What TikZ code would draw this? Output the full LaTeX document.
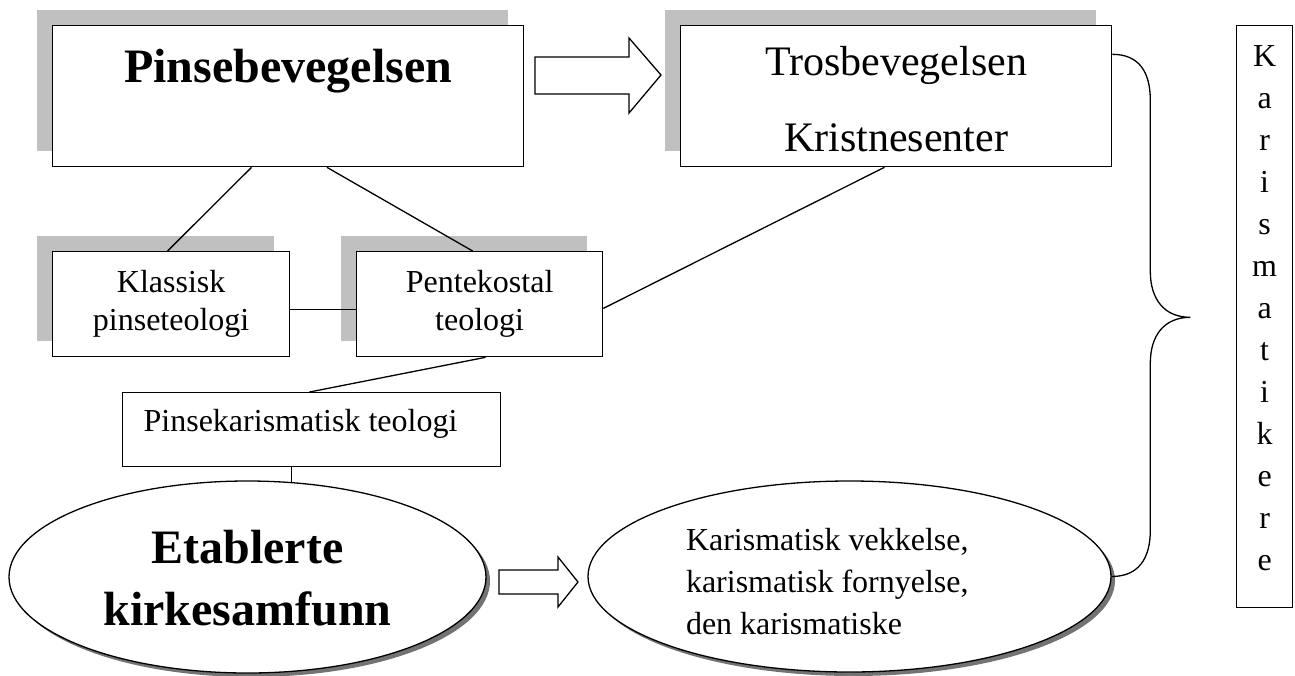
\documentclass[tikz,border=0pt]{standalone}
\usepackage{fontspec}
\setmainfont{Liberation Serif}
\usepackage{xcolor}
\usepackage{tikz}
\usetikzlibrary{shapes.geometric,shadows,calc}

\definecolor{boxshade}{RGB}{192,192,192}
\definecolor{ovalshade}{RGB}{115,115,115}
\tikzset{
	shadebox/.style={draw,fill=white,inner sep=0pt,anchor=north west,general shadow={fill=boxshade,shadow xshift=-8pt,shadow yshift=8pt}},
	plainbox/.style={draw,fill=white,inner sep=0pt,anchor=north west},
	oval/.style={ellipse,draw,fill=white,inner sep=0pt,drop shadow={fill=ovalshade,opacity=1,shadow xshift=2pt,shadow yshift=-2pt}},
	blockarrow/.style={draw,fill=white}
}

\begin{document}
\begin{tikzpicture}[x=0.5pt,y=-0.5pt,line width=0.65pt]
		\useasboundingbox (0,0) rectangle (1295,675);
		% upper row
		\node[shadebox,minimum width=235.5pt,text height=28.5pt,text depth=42pt,font=\bfseries\fontsize{24}{28}\selectfont] (pinse) at (52,25) {Pinsebevegelsen};
		\node[shadebox,minimum width=215.5pt,text height=25pt,text depth=45.5pt,font=\fontsize{21}{38}\selectfont] (tros) at (680,25) {\parbox[t]{200pt}{\centering Trosbevegelsen\\Kristnesenter}};
		\node[plainbox,minimum width=28pt,text height=20.5pt,text depth=270.5pt,font=\fontsize{16}{21}\selectfont] (karis) at (1236,25) {\parbox[t]{20pt}{\centering K\\a\\r\\i\\s\\m\\a\\t\\i\\k\\e\\r\\e}};
		% middle row
		\node[shadebox,minimum width=118.5pt,text height=20.5pt,text depth=32pt,font=\fontsize{16}{19}\selectfont] (klass) at (52,251) {\parbox[t]{110pt}{\centering Klassisk\\pinseteologi}};
		\node[shadebox,minimum width=123pt,text height=20.5pt,text depth=32pt,font=\fontsize{16}{19}\selectfont] (pent) at (356,251) {\parbox[t]{110pt}{\centering Pentekostal\\teologi}};
		\node[plainbox,minimum width=189.25pt,text height=19.5pt,text depth=17.5pt,font=\fontsize{16}{19}\selectfont] (pinsekar) at (121.5,392) {\parbox[t]{167.75pt}{\raggedright Pinsekarismatisk teologi}};
		% lower row
		\node[oval,minimum width=238.5pt,minimum height=96pt,text height=16pt,text depth=30pt,font=\bfseries\fontsize{24}{31}\selectfont] (etab) at (247.5,577) {\parbox[t]{150pt}{\centering Etablerte\\kirkesamfunn}};
		\node[oval,minimum width=261.5pt,minimum height=95.5pt,text height=10.5pt,text depth=37pt,font=\fontsize{16}{21}\selectfont] (karell) at (849.5,576.5) {\parbox[t]{163.5pt}{\raggedright Karismatisk vekkelse,\\karismatisk fornyelse,\\den karismatiske}};
		% connectors
		\draw ($(pinse.south west)!0.4225!(pinse.south east)$) -- ($(klass.north west)!0.485!(klass.north east)$);
		\draw ($(pinse.south west)!0.582!(pinse.south east)$) -- ($(pent.north west)!0.4715!(pent.north east)$);
		\draw ($(klass.north east)!0.55!(klass.south east)$) -- ($(pent.north west)!0.55!(pent.south west)$);
		\draw ($(tros.south west)!0.473!(tros.south east)$) -- ($(pent.north east)!0.54!(pent.south east)$);
		\draw ($(pent.south west)!0.524!(pent.south east)$) -- ($(pinsekar.north west)!0.495!(pinsekar.north east)$);
		\draw (etab.65.6 |- pinsekar.south) -- (etab.65.6);
		% hollow arrows
		\draw[blockarrow] (535,57) -- (629,57) -- (629,38) -- (661,75) -- (629,113) -- (629,94) -- (535,94) -- cycle;
		\draw[blockarrow] (499,570) -- (558,570) -- (558,557) -- (578,582) -- (558,607) -- (558,594) -- (499,594) -- cycle;
		% brace
		\coordinate (bracetop) at ($(tros.north east)!0.206!(tros.south east)$);
		\draw (bracetop) .. controls +(27,0) and +(0,-28) .. ++(38,46)
			-- ++(0,171)
			.. controls +(0,28) and +(-26,0) .. ++(40,46)
			.. controls +(-26,0) and +(0,-28) .. ++(-40,46)
			-- ++(0,167)
			.. controls +(0,28) and +(27,0) .. (karell.east);
	\end{tikzpicture}
\end{document}
